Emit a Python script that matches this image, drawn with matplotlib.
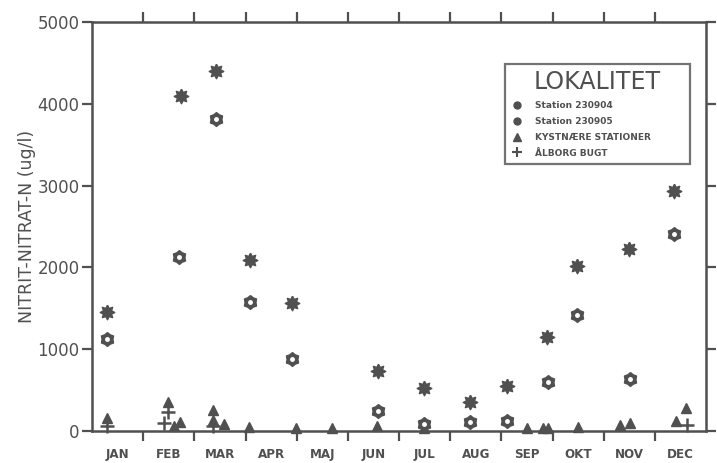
import numpy as np
import matplotlib
matplotlib.use("Agg")
import matplotlib.pyplot as plt
from matplotlib.lines import Line2D

# ---- data (x in months from 1 Jan, fractional) ----
months = ["JAN", "FEB", "MAR", "APR", "MAJ", "JUN", "JUL", "AUG", "SEP", "OKT", "NOV", "DEC"]

st904_x = [0.29, 1.74, 2.42, 3.09, 3.91, 5.59, 6.48, 7.38, 8.11, 8.89, 9.47, 10.49, 11.37]
st904_y = [1460, 4090, 4400, 2090, 1570, 730, 520, 350, 545, 1155, 2020, 2225, 2930]

st905_x = [0.29, 1.70, 2.42, 3.09, 3.91, 5.59, 6.48, 7.38, 8.11, 8.91, 9.47, 10.51, 11.37]
st905_y = [1130, 2130, 3810, 1580, 875, 240, 85, 110, 120, 600, 1420, 630, 2410]

kyst_x = [0.29, 1.48, 1.72, 1.60, 2.36, 2.36, 2.58, 3.07, 3.98, 4.69, 5.57, 6.48,
          8.50, 8.81, 8.91, 9.49, 10.31, 10.51, 11.41, 11.60]
kyst_y = [160, 355, 110, 60, 260, 135, 90, 50, 40, 40, 60, 40,
          40, 40, 40, 50, 75, 95, 120, 280]

alb_x = [0.29, 1.48, 1.40, 2.36, 11.62]
alb_y = [60, 230, 100, 60, 75]

yticks = [0, 1000, 2000, 3000, 4000, 5000]

C = "#505050"

def gear(n, inner):
    ang = np.linspace(0, 2 * np.pi, 2 * n, endpoint=False) + np.pi / 2
    r = np.where(np.arange(2 * n) % 2 == 0, 1.0, inner)
    v = np.column_stack([r * np.cos(ang), r * np.sin(ang)])
    return np.vstack([v, v[:1]])

m904 = gear(8, 0.6)
m905 = gear(6, 0.78)

fig = plt.figure(figsize=(7.17, 4.63), dpi=100)
ax = fig.add_axes([92 / 717, 1 - 431 / 463, 614 / 717, 409 / 463])

ax.plot(st904_x, st904_y, ls="none", marker=m904, ms=10.5, mfc=C, mec=C, clip_on=False, zorder=3)
ax.plot(st905_x, st905_y, ls="none", marker=m905, ms=10, mfc=C, mec=C, clip_on=False, zorder=3)
ax.plot(st905_x, st905_y, ls="none", marker="o", ms=2.5, mfc="white", mec="white", clip_on=False, zorder=4)
ax.plot(kyst_x, kyst_y, ls="none", marker="^", ms=7.5, mfc=C, mec=C, clip_on=False, zorder=3)
ax.plot(alb_x, alb_y, ls="none", marker="+", ms=10, mew=1.8, color=C, clip_on=False, zorder=3)

ax.set_xlim(0, 12)
ax.set_ylim(0, 5000)

ax.set_xticks(range(1, 12))
ax.set_xticklabels([])
ax.set_xticks(np.arange(12) + 0.5, minor=True)
ax.set_xticklabels(months, minor=True, fontsize=9.5, color=C, fontweight="bold",
                   family=["DejaVu Sans"], fontstretch="condensed")
ax.tick_params(axis="x", which="minor", length=0, pad=12)
ax.tick_params(axis="x", which="major", direction="out", length=7, width=1.6,
               color=C, top=True, bottom=True)

ax.set_yticks(yticks)
ax.set_yticklabels([str(v) for v in yticks], fontsize=12, color=C)
ax.tick_params(axis="y", direction="out", length=7, width=1.6, color=C,
               left=True, right=True, pad=2)

for s in ax.spines.values():
    s.set_color(C)
    s.set_linewidth(1.8)

ax.set_ylabel("NITRIT-NITRAT-N (ug/l)", fontsize=12.5, color=C, labelpad=1)

handles = [
    Line2D([], [], ls="none", marker="o", ms=5, mfc=C, mec=C),
    Line2D([], [], ls="none", marker="o", ms=5, mfc=C, mec=C),
    Line2D([], [], ls="none", marker="^", ms=6, mfc=C, mec=C),
    Line2D([], [], ls="none", marker="+", ms=7, mew=1.5, color=C),
]
labels = ["Station 230904", "Station 230905", "KYSTNÆRE STATIONER", "ÅLBORG BUGT"]
leg = ax.legend(handles, labels, title="LOKALITET", loc="upper left",
                bbox_to_anchor=(0.673, 0.897, 0.301, 0.0), mode="expand",
                fontsize=6.5, title_fontsize=17,
                frameon=True, fancybox=False, edgecolor=C, borderpad=0.7,
                labelspacing=0.75, handletextpad=1.4, handlelength=1.2,
                borderaxespad=0)
leg.get_frame().set_linewidth(1.6)
leg.get_title().set_color(C)
for t in leg.get_texts():
    t.set_color(C)
    t.set_fontweight("bold")

fig.savefig("out.png", dpi=100)
